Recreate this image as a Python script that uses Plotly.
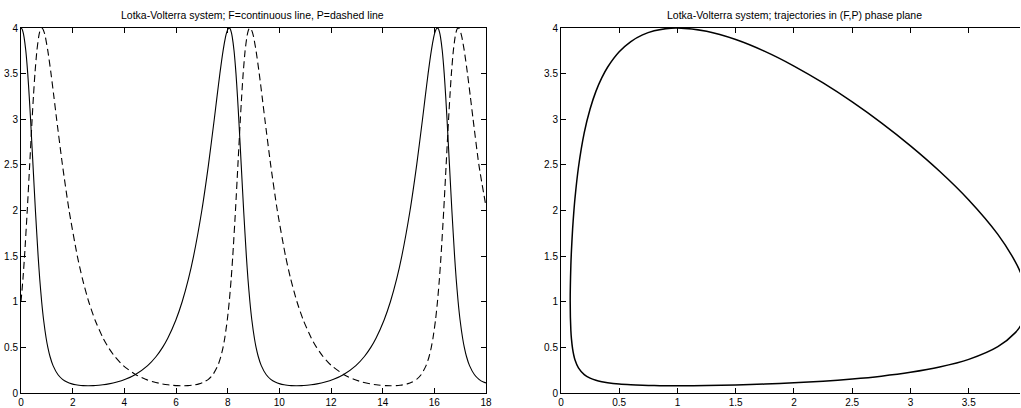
import plotly.graph_objects as go

# ---------------- data ----------------
# Left panel: F (prey, solid) versus time
t_F = [0.0, 0.04, 0.084, 0.118, 0.186, 0.261, 0.319, 0.370, 0.464, 0.558,
       0.663, 0.725, 0.800, 0.875, 0.974, 1.039, 1.123, 1.241, 1.434, 1.607,
       1.779, 1.969, 2.124, 2.243, 2.40, 2.585, 2.80, 3.012, 3.171, 3.398,
       3.712, 4.039, 4.415, 4.902, 5.231, 5.480, 5.681, 5.995, 6.238, 6.481,
       6.680, 6.999, 7.256, 7.481, 7.588, 7.698, 7.821, 7.915, 7.959, 8.020,
       8.06,
       8.10, 8.144, 8.178, 8.246, 8.321, 8.379, 8.430, 8.524, 8.618, 8.723,
       8.785, 8.860, 8.935, 9.034, 9.099, 9.183, 9.301, 9.494, 9.667, 9.839,
       10.029, 10.184, 10.303, 10.46, 10.645, 10.86, 11.072, 11.231, 11.458, 11.772,
       12.099, 12.475, 12.962, 13.291, 13.540, 13.741, 14.055, 14.298, 14.541, 14.740,
       15.059, 15.316, 15.541, 15.648, 15.758, 15.881, 15.975, 16.019, 16.080, 16.12,
       16.16, 16.204, 16.238, 16.306, 16.381, 16.439, 16.490, 16.584, 16.678, 16.783,
       16.845, 16.920, 16.995, 17.094, 17.159, 17.243, 17.361, 17.554, 17.727, 17.899,
       18.0]
F_vals = [4.0, 3.989, 3.95, 3.9, 3.75, 3.5, 3.25, 3.0, 2.5, 2.0,
          1.5, 1.25, 1.0, 0.8, 0.6, 0.5, 0.4, 0.3, 0.2, 0.15,
          0.12, 0.1, 0.09, 0.085, 0.0811, 0.0793, 0.0806, 0.085, 0.09, 0.1,
          0.12, 0.15, 0.2, 0.3, 0.4, 0.5, 0.6, 0.8, 1.0, 1.25,
          1.5, 2.0, 2.5, 3.0, 3.25, 3.5, 3.75, 3.9, 3.95, 3.992,
          4.0,
          3.989, 3.95, 3.9, 3.75, 3.5, 3.25, 3.0, 2.5, 2.0, 1.5,
          1.25, 1.0, 0.8, 0.6, 0.5, 0.4, 0.3, 0.2, 0.15, 0.12,
          0.1, 0.09, 0.085, 0.0811, 0.0793, 0.0806, 0.085, 0.09, 0.1, 0.12,
          0.15, 0.2, 0.3, 0.4, 0.5, 0.6, 0.8, 1.0, 1.25, 1.5,
          2.0, 2.5, 3.0, 3.25, 3.5, 3.75, 3.9, 3.95, 3.992, 4.0,
          3.989, 3.95, 3.9, 3.75, 3.5, 3.25, 3.0, 2.5, 2.0, 1.5,
          1.25, 1.0, 0.8, 0.6, 0.5, 0.4, 0.3, 0.2, 0.15, 0.12,
          0.11]

# Left panel: P (predator, dashed) versus time
t_P = [0.0, 0.075, 0.137, 0.242, 0.336, 0.430, 0.481, 0.539, 0.614, 0.682,
       0.716, 0.760, 0.800,
       0.840, 0.901, 0.945, 1.039, 1.162, 1.272, 1.379, 1.604, 1.861, 2.180,
       2.379, 2.622, 2.865, 3.179, 3.380, 3.629, 3.958, 4.445, 4.821, 5.148,
       5.462, 5.689, 5.848, 6.06, 6.275,
       6.46, 6.617, 6.736, 6.891, 7.081, 7.253, 7.426, 7.619, 7.737, 7.821,
       7.886, 7.985, 8.060, 8.135, 8.197, 8.302, 8.396, 8.490, 8.541, 8.599,
       8.674, 8.742, 8.776, 8.820, 8.860,
       8.900, 8.961, 9.005, 9.099, 9.222, 9.332, 9.439, 9.664, 9.921, 10.240,
       10.439, 10.682, 10.925, 11.239, 11.440, 11.689, 12.018, 12.505, 12.881, 13.208,
       13.522, 13.749, 13.908, 14.12, 14.335,
       14.52, 14.677, 14.796, 14.951, 15.141, 15.313, 15.486, 15.679, 15.797, 15.881,
       15.946, 16.045, 16.120, 16.195, 16.257, 16.362, 16.456, 16.550, 16.601, 16.659,
       16.734, 16.802, 16.836, 16.880, 16.920,
       16.960, 17.021, 17.065, 17.159, 17.282, 17.392, 17.499, 17.724, 18.0]
P_vals = [1.0, 1.25, 1.5, 2.0, 2.5, 3.0, 3.25, 3.5, 3.75, 3.9,
          3.95, 3.989, 4.0,
          3.992, 3.95, 3.9, 3.75, 3.5, 3.25, 3.0, 2.5, 2.0, 1.5,
          1.25, 1.0, 0.8, 0.6, 0.5, 0.4, 0.3, 0.2, 0.15, 0.12,
          0.1, 0.09, 0.085, 0.0806, 0.0793,
          0.0811, 0.085, 0.09, 0.1, 0.12, 0.15, 0.2, 0.3, 0.4, 0.5,
          0.6, 0.8, 1.0, 1.25, 1.5, 2.0, 2.5, 3.0, 3.25, 3.5,
          3.75, 3.9, 3.95, 3.989, 4.0,
          3.992, 3.95, 3.9, 3.75, 3.5, 3.25, 3.0, 2.5, 2.0, 1.5,
          1.25, 1.0, 0.8, 0.6, 0.5, 0.4, 0.3, 0.2, 0.15, 0.12,
          0.1, 0.09, 0.085, 0.0806, 0.0793,
          0.0811, 0.085, 0.09, 0.1, 0.12, 0.15, 0.2, 0.3, 0.4, 0.5,
          0.6, 0.8, 1.0, 1.25, 1.5, 2.0, 2.5, 3.0, 3.25, 3.5,
          3.75, 3.9, 3.95, 3.989, 4.0,
          3.992, 3.95, 3.9, 3.75, 3.5, 3.25, 3.0, 2.5, 2.04]

# Right panel: closed trajectory in the (F, P) phase plane
phase_F = [4.0, 3.95, 3.9, 3.75, 3.5, 3.25, 3.0, 2.75, 2.5, 2.25,
           2.0, 1.75, 1.5, 1.25, 1.0, 0.9, 0.8, 0.7, 0.6, 0.5,
           0.4, 0.35, 0.3, 0.25, 0.2, 0.15, 0.12, 0.11, 0.1, 0.09,
           0.085, 0.0793,
           0.085, 0.09, 0.1, 0.11, 0.12, 0.15, 0.2, 0.25, 0.3, 0.35,
           0.4, 0.5, 0.6, 0.7, 0.8, 0.9, 1.0, 1.25, 1.5, 1.75,
           2.0, 2.25, 2.5, 2.75, 3.0, 3.25, 3.5, 3.75, 3.9, 3.95,
           4.0]
phase_P = [1.0, 1.2997, 1.4375, 1.7385, 2.116, 2.4304, 2.7088, 2.9608, 3.19, 3.3978,
           3.583, 3.7434, 3.8733, 3.964, 4.0, 3.993, 3.969, 3.924, 3.8513, 3.7395,
           3.57, 3.4532, 3.3053, 3.112, 2.8525, 2.4713, 2.129, 1.979, 1.7975, 1.561,
           1.4005, 1.0,
           0.684, 0.5927, 0.4826, 0.4136, 0.3647, 0.2748, 0.2013, 0.1629, 0.1394, 0.1237,
           0.1125, 0.098, 0.0895, 0.0844, 0.0813, 0.0798, 0.0793, 0.0816, 0.0879, 0.0977,
           0.1113, 0.1293, 0.1531, 0.1843, 0.2263, 0.2842, 0.3687, 0.508, 0.6618, 0.7508,
           1.0]

t_ticks = [0, 2, 4, 6, 8, 10, 12, 14, 16, 18]
y_ticks = [0, 0.5, 1, 1.5, 2, 2.5, 3, 3.5, 4]
y_tick_text = ["0", "0.5", "1", "1.5", "2", "2.5", "3", "3.5", "4"]
f_ticks = [0, 0.5, 1, 1.5, 2, 2.5, 3, 3.5]
f_tick_text = ["0", "0.5", "1", "1.5", "2", "2.5", "3", "3.5"]

title_left = "Lotka-Volterra system; F=continuous line, P=dashed line"
title_right = "Lotka-Volterra system; trajectories in (F,P) phase plane"

# ---------------- figure ----------------
FONT = "Liberation Sans, Arial, Helvetica, sans-serif"

fig = go.Figure()
fig.add_trace(go.Scatter(x=t_F, y=F_vals, mode="lines",
                         line=dict(color="black", width=1.1, shape="spline", smoothing=0.6),
                         xaxis="x", yaxis="y", showlegend=False, hoverinfo="skip"))
fig.add_trace(go.Scatter(x=t_P, y=P_vals, mode="lines",
                         line=dict(color="black", width=1.1, dash="7px,4px",
                                   shape="spline", smoothing=0.6),
                         xaxis="x", yaxis="y", showlegend=False, hoverinfo="skip"))
fig.add_trace(go.Scatter(x=phase_F, y=phase_P, mode="lines",
                         line=dict(color="black", width=1.5, shape="spline", smoothing=0.8),
                         xaxis="x2", yaxis="y2", showlegend=False, hoverinfo="skip"))

axis_common = dict(showline=True, linecolor="black", linewidth=1,
                   ticks="inside", ticklen=5, tickwidth=1, tickcolor="black",
                   showgrid=False, zeroline=False,
                   tickfont=dict(family=FONT, size=10, color="black"))

left_dom = [0.0, 0.4655]
right_dom = [0.5405, 1.0]

fig.update_layout(
    width=1021, height=408,
    margin=dict(l=21, r=1, t=28, b=15, autoexpand=False),
    paper_bgcolor="white", plot_bgcolor="white",
    font=dict(family=FONT, size=10, color="black"),
    hovermode=False,
    xaxis=dict(domain=left_dom, range=[0, 18], tickvals=t_ticks,
               anchor="y", mirror="ticks", **axis_common),
    yaxis=dict(domain=[0, 1], range=[0, 4], tickvals=y_ticks, ticktext=y_tick_text,
               anchor="x", mirror="ticks", **axis_common),
    xaxis2=dict(domain=right_dom, range=[0, 3.94], tickvals=f_ticks, ticktext=f_tick_text,
                anchor="y2", mirror="ticks", **axis_common),
    yaxis2=dict(domain=[0, 1], range=[0, 4], tickvals=y_ticks, ticktext=y_tick_text,
                anchor="x2", mirror=False, **axis_common),
    annotations=[
        dict(text=title_left, xref="paper", yref="paper", x=0.2322, y=1.0356,
             xanchor="center", yanchor="middle", showarrow=False,
             font=dict(family=FONT, size=10.5, color="black")),
        dict(text=title_right, xref="paper", yref="paper", x=0.7738, y=1.0356,
             xanchor="center", yanchor="middle", showarrow=False,
             font=dict(family=FONT, size=10.5, color="black")),
    ],
)

fig.write_html("out.html",
               config={"displayModeBar": False},
               post_script="document.body.style.margin='0';document.body.style.overflow='hidden';")
